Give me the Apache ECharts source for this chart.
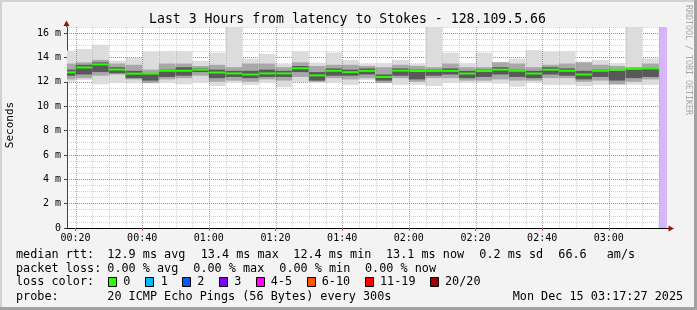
<!DOCTYPE html>
<html><head><meta charset="utf-8">
<script src="https://cdn.jsdelivr.net/npm/echarts@6/dist/echarts.min.js"></script>
<style>html,body{margin:0;padding:0;background:#f3f3f3}#c{width:697px;height:310px}</style>
</head><body><div id="c"></div>
<script>
// ---- data ----
const viewStart = "00:17:27";
const viewEnd = "03:17:27";
const unknownStart = "03:15";
const barEndTimes = ["00:20","00:25","00:30","00:35","00:40","00:45","00:50","00:55",
  "01:00","01:05","01:10","01:15","01:20","01:25","01:30","01:35","01:40","01:45","01:50","01:55",
  "02:00","02:05","02:10","02:15","02:20","02:25","02:30","02:35","02:40","02:45","02:50","02:55",
  "03:00","03:05","03:10","03:15"];
const stepMinutes = 5;
const median = [12.78,13.18,13.43,13.01,12.67,12.67,12.91,12.91,13.0,12.76,12.69,12.6,12.69,12.69,13.11,12.53,12.91,12.79,12.9,12.4,12.92,12.89,12.9,12.9,12.68,12.89,13.0,12.91,12.68,13.0,12.91,12.6,12.91,13.0,13.1,13.1];
const pingMax = [14.56,14.7,15.05,13.74,13.96,14.48,14.53,14.53,13.72,14.4,17.0,13.9,14.29,13.47,14.5,13.57,14.4,13.8,13.47,13.52,13.8,13.47,17.0,14.4,13.52,14.4,13.63,13.9,14.6,14.48,14.53,13.66,13.8,13.52,17.0,13.92];
const pingMin = [12.0,12.15,11.8,11.9,11.88,11.88,11.9,11.8,11.9,11.66,11.9,11.75,11.9,11.56,12.0,11.9,11.9,11.75,12.15,11.9,11.75,11.75,11.66,11.9,11.9,11.9,11.85,11.6,11.9,11.75,11.75,11.66,11.75,11.75,11.75,11.75];
const midHi = [13.5,13.6,13.8,13.5,13.4,13.0,13.5,13.5,13.3,13.4,13.2,13.5,13.5,13.2,13.6,13.3,13.4,13.4,13.3,13.2,13.4,13.3,13.2,13.5,13.2,13.2,13.6,13.5,13.2,13.4,13.5,13.6,13.4,13.3,13.2,13.5];
const midLo = [12.2,12.3,12.5,12.6,12.2,11.9,12.2,12.3,12.5,12.0,12.1,12.0,12.2,12.1,12.4,12.0,12.3,12.2,12.3,11.9,12.3,12.0,12.3,12.3,12.1,12.1,12.2,12.1,12.1,12.3,12.3,12.0,12.1,11.8,12.0,12.2];
const coreHi = [13.0,13.4,13.6,13.2,12.9,12.7,13.0,13.2,13.1,13.0,12.9,12.9,13.0,12.9,13.3,12.8,13.1,13.0,13.1,12.6,13.1,13.0,13.0,13.1,12.9,13.0,13.2,13.0,12.9,13.2,13.1,12.9,13.0,12.9,13.0,13.1];
const coreLo = [12.5,12.6,12.8,12.7,12.3,12.1,12.4,12.5,12.8,12.3,12.4,12.3,12.4,12.4,12.8,12.1,12.5,12.5,12.6,12.1,12.5,12.2,12.5,12.6,12.3,12.4,12.6,12.4,12.3,12.6,12.5,12.2,12.4,12.1,12.3,12.4];

const xTickTimes = ["00:20","00:40","01:00","01:20","01:40","02:00","02:20","02:40","03:00"];
const yTickValues = [0,2,4,6,8,10,12,14,16];
const yTickLabels = ["0","2 m","4 m","6 m","8 m","10 m","12 m","14 m","16 m"];
const yMax = 16.5;

const statLabels = ["12.9 ms avg","13.4 ms max","12.4 ms min","13.1 ms now","0.2 ms sd","66.6","am/s"];
const lossStats = ["0.00 % avg","0.00 % max","0.00 % min","0.00 % now"];
const lossNames = ["0","1","2","3","4-5","6-10","11-19","20/20"];
const lossColors = ["#26ff00","#00b8ff","#0059ff","#7e00ff","#ff00ff","#ff5500","#ff0000","#a10000"];
const probeText = "20 ICMP Echo Pings (56 Bytes) every 300s";
const dateText = "Mon Dec 15 03:17:27 2025";
const titleText = "Last 3 Hours from latency to Stokes - 128.109.5.66";

// ---- helpers ----
function toMin(s){ const p = s.split(':').map(Number); return p[0]*60 + p[1] + (p[2]||0)/60; }
const xMin = toMin(viewStart), xMax = toMin(viewEnd);
const xTickValues = xTickTimes.map(toMin);
const vGridRows = barEndTimes.map(toMin).map(v => [v, xTickValues.indexOf(v) >= 0 ? 1 : 0]);
const rows = barEndTimes.map((t,i)=>{
  const e = toMin(t);
  return [e - stepMinutes, e, pingMin[i], pingMax[i], midLo[i], midHi[i], coreLo[i], coreHi[i], median[i]];
});

const MONO = '"DejaVu Sans Mono", monospace';
const G = {left:67, top:27, width:600, height:201};

const chart = echarts.init(document.getElementById('c'), null, {renderer:'canvas'});

function renderItem(params, api){
  const cs = params.coordSys;
  const x0 = api.value(0), x1 = api.value(1);
  function rect(lo, hi, color){
    const a = api.coord([x0, hi]), b = api.coord([x1, lo]);
    return {type:'rect', shape:{x:a[0], y:a[1], width:b[0]-a[0], height:b[1]-a[1]}, style:{fill:color}};
  }
  const m = api.coord([x0, api.value(8)]), m2 = api.coord([x1, api.value(8)]);
  return {
    type:'group',
    clipPath:{type:'rect', shape:{x:cs.x, y:cs.y, width:cs.width, height:cs.height}},
    children:[
      rect(api.value(2), api.value(3), '#dcdcdc'),
      rect(api.value(4), api.value(5), '#a8a8a8'),
      rect(api.value(6), api.value(7), '#595959'),
      {type:'rect', shape:{x:m[0], y:m[1]-1, width:m2[0]-m[0], height:2}, style:{fill:'#26ff00'}}
    ]
  };
}

const gridRed = 'rgba(255,0,0,0.5)';
const gridGray = 'rgba(128,128,128,0.35)';

function vGridRender(params, api){
  const v = api.value(0);
  const major = Number(api.value(1)) > 0.5;
  const top = api.coord([v, yMax]);
  const bot = api.coord([v, 0]);
  const x = Math.round(top[0]) + 0.5;
  return {type:'line', shape:{x1:x, y1:top[1], x2:x, y2:bot[1]},
    style:{stroke: major ? gridRed : gridGray, lineWidth:1, lineDash:[1,1]}};
}

const graphics = [];
// frame
graphics.push({type:'rect', shape:{x:0,y:0,width:697,height:2}, style:{fill:'#d2d2d2'}, silent:true});
graphics.push({type:'rect', shape:{x:0,y:0,width:2,height:310}, style:{fill:'#d2d2d2'}, silent:true});
graphics.push({type:'rect', shape:{x:0,y:307,width:697,height:3}, style:{fill:'#a2a2a2'}, silent:true});
graphics.push({type:'rect', shape:{x:694,y:0,width:3,height:310}, style:{fill:'#a2a2a2'}, silent:true});
// title
graphics.push({type:'text', x:347.5, y:19.5, style:{text:titleText, font:'13.2px '+MONO, fill:'#000', align:'center', verticalAlign:'middle'}});
// y axis name
graphics.push({type:'text', x:10, y:125, rotation:Math.PI/2, style:{text:'Seconds', font:'11px '+MONO, fill:'#000', align:'center', verticalAlign:'middle'}});
// watermark
graphics.push({type:'text', x:688, y:60, rotation:-Math.PI/2, style:{text:'RRDTOOL / TOBI OETIKER', font:'8.3px '+MONO, fill:'#a8a8a8', align:'center', verticalAlign:'middle'}});
// axis extensions & arrows
graphics.push({type:'line', shape:{x1:66.5,y1:27,x2:66.5,y2:24}, style:{stroke:'#444', lineWidth:1}});
graphics.push({type:'polygon', shape:{points:[[66.5,20.5],[63.5,26],[69.5,26]]}, style:{fill:'#a01010'}});
graphics.push({type:'line', shape:{x1:667,y1:228.5,x2:670,y2:228.5}, style:{stroke:'#000', lineWidth:1}});
graphics.push({type:'polygon', shape:{points:[[674,228.5],[668.5,225.5],[668.5,231.5]]}, style:{fill:'#a01010'}});

const LF = '11.8px '+MONO;
function txt(s, x, y){ graphics.push({type:'text', x:x, y:y, style:{text:s, font:LF, fill:'#000', align:'left', verticalAlign:'middle'}}); }
// row 1
txt('median rtt:', 16, 254.5);
[107.3,200.7,293.3,386,479.3,558.3,606.7].forEach((x,i)=>txt(statLabels[i], x, 254.5));
// row 2
txt('packet loss:', 16, 268.5);
[107.3,193.3,279.3,365].forEach((x,i)=>txt(lossStats[i], x, 268.5));
// row 3
txt('loss color:', 16, 282);
const boxX = [108.5,145.5,182.5,219.5,256.5,307.5,365.5,430.5];
const labX = [123.3,160.7,197.3,234.3,270.7,321.7,380,445];
lossNames.forEach((n,i)=>{
  graphics.push({type:'rect', shape:{x:boxX[i], y:277.5, width:8, height:9}, style:{fill:lossColors[i], stroke:'#000', lineWidth:1}});
  txt(n, labX[i], 282);
});
// row 4
txt('probe:', 16, 296.5);
txt(probeText, 107.3, 296.5);
txt(dateText, 512.7, 296.5);

const option = {
  animation:false,
  backgroundColor:'#f3f3f3',
  grid:{left:G.left, top:G.top, width:G.width, height:G.height, show:true, backgroundColor:'#ffffff', borderWidth:0},
  xAxis:[
    {type:'value', min:xMin, max:xMax, position:'bottom', z:3,
     axisLine:{show:true, onZero:false, lineStyle:{color:'#000', width:1}},
     axisTick:{show:true, customValues:xTickValues, length:3, lineStyle:{color:'#c06060'}},
     axisLabel:{customValues:xTickValues, margin:5, fontFamily:MONO, fontSize:10, color:'#000',
       formatter:(v)=>{ const i = xTickValues.findIndex(t=>Math.abs(t-v)<1e-6); return i>=0?xTickTimes[i]:''; }},
     splitLine:{show:false}}
  ],
  yAxis:[
    {type:'value', min:0, max:yMax, position:'left', z:1,
     axisLine:{show:true, onZero:false, lineStyle:{color:'#444', width:1}},
     axisTick:{show:true, customValues:yTickValues, length:3, lineStyle:{color:'#444'}},
     axisLabel:{customValues:yTickValues, margin:6, fontFamily:MONO, fontSize:10, color:'#000',
       formatter:(v)=>{ const i = yTickValues.indexOf(v); return i>=0?yTickLabels[i]:''; }},
     splitLine:{show:true, lineStyle:{color:gridRed, type:[1,1], width:1}}},
    {type:'value', min:0, max:yMax, interval:0.5, position:'left', z:0,
     axisLine:{show:false}, axisTick:{show:false}, axisLabel:{show:false},
     splitLine:{show:true, showMinLine:false, lineStyle:{color:gridGray, type:[1,1], width:1}}}
  ],
  series:[
    {type:'custom', name:'vgrid', xAxisIndex:0, yAxisIndex:0, silent:true, z:3, clip:false,
     data:vGridRows, encode:{x:0}, renderItem:vGridRender},
    {
    type:'custom', name:'smoke', xAxisIndex:0, yAxisIndex:0, z:2,
    renderItem:renderItem,
    encode:{x:[0,1], y:[2,3]},
    data:rows,
    markArea:{silent:true, itemStyle:{color:'#d6b6f8', opacity:1},
      data:[[{xAxis:toMin(unknownStart)}, {xAxis:xMax}]]}
  }],
  graphic:{elements:graphics}
};
chart.setOption(option);
</script></body></html>
